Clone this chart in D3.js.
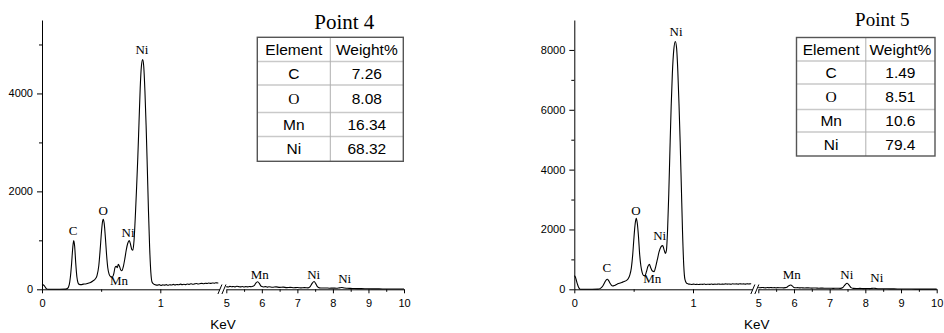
<!DOCTYPE html>
<html><head><meta charset="utf-8">
<script src="https://cdn.jsdelivr.net/npm/d3@7/dist/d3.min.js"></script>
<style>body{margin:0;background:#fff}svg{display:block}</style>
</head><body>
<svg id="chart" width="944" height="333"></svg>
<script>
// ---------------- DATA ----------------
// Point 4 spectrum [keV, counts]
const p4Spectrum = [
 [0.000,85],[0.010,90],[0.020,70],[0.030,35],[0.040,8],[0.050,0],[0.100,0],[0.150,0],[0.200,3],[0.215,15],
 [0.230,90],[0.240,250],[0.250,520],[0.260,850],[0.268,995],[0.276,880],[0.285,540],[0.295,250],[0.305,130],[0.315,100],
 [0.330,95],[0.350,105],[0.370,110],[0.390,125],[0.410,140],[0.430,170],[0.450,210],[0.465,280],[0.480,480],[0.492,820],
 [0.503,1180],[0.512,1390],[0.518,1430],[0.526,1340],[0.536,1050],[0.546,700],[0.556,440],[0.567,310],[0.580,260],[0.595,250],
 [0.607,320],[0.618,450],[0.628,470],[0.636,440],[0.645,510],[0.655,470],[0.665,400],[0.675,380],[0.688,470],[0.700,620],
 [0.712,800],[0.725,940],[0.738,995],[0.750,900],[0.760,810],[0.768,800],[0.778,1000],[0.790,1550],[0.800,2100],[0.810,2700],
 [0.820,3400],[0.830,4100],[0.840,4550],[0.851,4690],[0.860,4550],[0.870,4050],[0.880,3350],[0.890,2500],[0.900,1600],[0.910,850],
 [0.920,350],[0.930,150],[0.945,105],[0.960,90],[0.975,85],[0.990,95],[1.005,80],[1.020,90],[1.035,85],[1.050,95],
 [1.065,82],[1.080,92],[1.095,88],[1.110,100],[1.125,90],[1.140,98],[1.155,92],[1.170,105],[1.185,96],[1.200,102],
 [1.215,95],[1.230,108],[1.245,100],[1.260,112],[1.275,104],[1.290,110],[1.305,118],[1.320,108],[1.335,115],[1.350,122],
 [1.365,112],[1.380,125],[1.395,118],[1.410,128],[1.425,120],[1.440,130],[1.455,124],[1.470,135],[1.485,128],[1.490,132],
 [5.00,55],[5.05,48],[5.10,60],[5.15,52],[5.20,58],[5.25,50],[5.30,62],[5.35,55],[5.40,50],[5.45,58],
 [5.50,48],[5.55,55],[5.60,50],[5.65,56],[5.70,52],[5.75,60],[5.79,80],[5.83,125],[5.88,155],[5.93,120],
 [5.97,70],[6.00,55],[6.05,48],[6.10,55],[6.15,45],[6.20,52],[6.30,42],[6.40,50],[6.50,40],[6.60,45],
 [6.70,35],[6.80,40],[6.90,32],[7.00,36],[7.10,30],[7.20,34],[7.30,30],[7.36,55],[7.41,115],[7.47,160],
 [7.52,110],[7.57,50],[7.62,30],[7.70,26],[7.80,28],[7.90,22],[8.00,25],[8.10,22],[8.18,30],[8.25,38],
 [8.32,28],[8.40,20],[8.50,18],[8.60,15],[8.80,14],[9.00,10],[9.20,9],[9.40,7],[9.60,6],[9.80,5],[10.0,5]
];
// Point 5 spectrum [keV, counts]
const p5Spectrum = [
 [0.000,450],[0.008,420],[0.016,320],[0.025,190],[0.035,80],[0.045,15],[0.050,0],[0.100,0],[0.150,0],[0.200,5],
 [0.220,30],[0.240,110],[0.255,220],[0.268,310],[0.278,335],[0.288,300],[0.300,210],[0.312,140],[0.323,110],[0.340,130],
 [0.360,170],[0.380,200],[0.400,230],[0.420,260],[0.440,300],[0.455,360],[0.468,480],[0.480,700],[0.492,1150],[0.503,1750],
 [0.513,2200],[0.522,2370],[0.531,2200],[0.541,1750],[0.551,1150],[0.561,780],[0.572,560],[0.584,460],[0.595,450],[0.607,580],
 [0.620,760],[0.632,835],[0.644,720],[0.658,610],[0.672,590],[0.686,760],[0.700,1000],[0.714,1250],[0.730,1420],[0.745,1460],
 [0.758,1300],[0.768,1200],[0.776,1300],[0.786,2000],[0.796,3200],[0.806,4700],[0.816,6100],[0.826,7200],[0.838,8000],[0.851,8280],
 [0.862,8050],[0.872,7300],[0.882,6200],[0.892,4900],[0.902,3400],[0.912,1900],[0.922,800],[0.932,330],[0.945,210],[0.960,180],
 [0.975,170],[0.990,160],[1.005,172],[1.020,162],[1.035,168],[1.050,158],[1.065,170],[1.080,165],[1.095,175],[1.110,162],
 [1.125,170],[1.140,166],[1.155,176],[1.170,165],[1.185,172],[1.200,168],[1.215,178],[1.230,168],[1.245,174],[1.260,170],
 [1.275,182],[1.290,172],[1.305,178],[1.320,170],[1.335,184],[1.350,175],[1.365,180],[1.380,172],[1.395,186],[1.410,176],
 [1.425,182],[1.440,174],[1.455,185],[1.470,178],[1.485,184],[1.490,180],
 [5.00,60],[5.05,50],[5.10,62],[5.15,55],[5.20,48],[5.25,58],[5.30,52],[5.35,60],[5.40,50],[5.45,55],
 [5.50,47],[5.55,56],[5.60,50],[5.65,54],[5.70,48],[5.75,55],[5.80,70],[5.85,115],[5.91,145],[5.96,105],
 [6.00,60],[6.05,50],[6.10,55],[6.15,46],[6.20,52],[6.30,44],[6.40,48],[6.50,40],[6.60,44],[6.70,36],
 [6.80,40],[6.90,34],[7.00,36],[7.10,32],[7.20,35],[7.30,32],[7.37,60],[7.43,150],[7.49,200],[7.55,130],
 [7.60,55],[7.66,32],[7.75,28],[7.85,30],[7.95,24],[8.05,26],[8.12,24],[8.18,32],[8.24,36],[8.30,28],
 [8.40,20],[8.50,18],[8.70,15],[8.90,12],[9.10,10],[9.30,8],[9.50,7],[9.70,5],[9.90,5],[10.0,5]
];
// Peak annotations [text, keV, counts]
const p4Labels = [["Ni",0.845,4796],["C",0.262,1108],["O",0.518,1516],["Ni",0.727,1061],["Mn",0.651,88],
                  ["Mn",5.94,204],["Ni",7.46,204],["Ni",8.33,135]];
const p5Labels = [["Ni",0.857,8467],["C",0.275,588],["O",0.520,2481],["Ni",0.719,1646],["Mn",0.656,200],
                  ["Mn",5.94,334],["Ni",7.48,334],["Ni",8.32,234]];
// Tables
const tableHeader = ["Element","Weight%"];
const p4Elements = ["C","O","Mn","Ni"];
const p4Weights  = ["7.26","8.08","16.34","68.32"];
const p5Elements = ["C","O","Mn","Ni"];
const p5Weights  = ["1.49","8.51","10.6","79.4"];
const p4Title = "Point 4", p5Title = "Point 5";
// Axes
const p4YMax = 5500, p5YMax = 9000;
const p4YTicks = [0,2000,4000], p4YMinor = [1000,3000,5000];
const p5YTicks = [0,2000,4000,6000,8000], p5YMinor = [1000,3000,5000,7000];
const xLowDomain = [0,1.5], xHighDomain = [5,10];
const xLowTicks = [0,1], xLowMinor = [0.5];
const xHighTicks = [5,6,7,8,9,10], xHighMinor = [5.5,6.5,7.5,8.5,9.5];
const xTitle = "KeV";

// ---------------- DRAW ----------------
const svg = d3.select("#chart");
const SANS = "'Liberation Sans', Arial, sans-serif";
const SERIF = "'Liberation Serif', 'Times New Roman', serif";

function panel(o){
  const g = svg.append("g");
  const y = d3.scaleLinear().domain([0,o.yMax]).range([289.3,20]);
  const xLo = d3.scaleLinear().domain(xLowDomain).range([o.x0, o.x0 + 1.5*o.kpx]);
  const xHi = d3.scaleLinear().domain(xHighDomain).range([o.h0, o.h1]);
  const xOf = k => k <= 2 ? xLo(k) : xHi(k);

  // y axis
  const ya = g.append("g").attr("transform",`translate(${o.x0},0)`)
    .call(d3.axisLeft(y).tickValues(o.yTicks).tickSize(5).tickSizeOuter(0).tickPadding(4).tickFormat(d3.format("d")));
  g.append("g").attr("transform",`translate(${o.x0},0)`)
    .call(d3.axisLeft(y).tickValues(o.yMinor).tickSize(3).tickFormat(""))
    .select(".domain").remove();
  // x axes
  const xa1 = g.append("g").attr("transform","translate(0,289.3)")
    .call(d3.axisBottom(xLo).tickValues(xLowTicks).tickSize(4).tickSizeOuter(0).tickPadding(5.5).tickFormat(d3.format("d")));
  g.append("g").attr("transform","translate(0,289.3)")
    .call(d3.axisBottom(xLo).tickValues(xLowMinor).tickSize(2.5).tickFormat("")).select(".domain").remove();
  const xa2 = g.append("g").attr("transform","translate(0,289.3)")
    .call(d3.axisBottom(xHi).tickValues(xHighTicks).tickSize(4).tickSizeOuter(0).tickPadding(5.5).tickFormat(d3.format("d")));
  g.append("g").attr("transform","translate(0,289.3)")
    .call(d3.axisBottom(xHi).tickValues(xHighMinor).tickSize(2.5).tickFormat("")).select(".domain").remove();
  g.selectAll(".tick text").attr("font-family",SANS).attr("font-size",11).attr("fill","#000");
  g.selectAll(".domain,.tick line").attr("stroke","#000").attr("stroke-width",1);

  // break marks
  const bx = xLo(1.5);
  [[-1.5,2.5],[2.5,6.5]].forEach(([a,b])=>{
    g.append("line").attr("x1",bx+a).attr("y1",294).attr("x2",bx+b).attr("y2",284.5)
      .attr("stroke","#000").attr("stroke-width",1);
  });

  // spectrum
  const line = d3.line().x(d=>xOf(d[0])).y(d=>y(d[1])).curve(d3.curveMonotoneX);
  const lo = o.spectrum.filter(d=>d[0]<=1.5), hi = o.spectrum.filter(d=>d[0]>=5);
  [lo,hi].forEach(seg=>g.append("path").datum(seg).attr("d",line)
    .attr("fill","none").attr("stroke","#000").attr("stroke-width",1.1).attr("stroke-linejoin","round"));

  // peak labels
  g.selectAll("text.pk").data(o.labels).join("text").attr("class","pk")
    .attr("x",d=>xOf(d[1])).attr("y",d=>y(d[2])).attr("text-anchor","middle")
    .attr("font-family",SERIF).attr("font-size",13).attr("fill","#000").text(d=>d[0]);

  // x title
  g.append("text").attr("x",o.kevX).attr("y",329).attr("text-anchor","middle")
    .attr("font-family",SANS).attr("font-size",13.5).text(xTitle);

  // title
  g.append("text").attr("x",o.titleX).attr("y",o.titleY).attr("text-anchor","middle")
    .attr("font-family",SERIF).attr("font-size",o.titleSize).text(o.title);

  // table
  const t = o.table;
  const rows = [tableHeader].concat(o.elements.map((e,i)=>[e,o.weights[i]]));
  const tg = g.append("g");
  for(let i=1;i<t.rows.length-1;i++){
    tg.append("line").attr("x1",t.x0).attr("x2",t.x2).attr("y1",t.rows[i]).attr("y2",t.rows[i])
      .attr("stroke","#c9c9c9").attr("stroke-width",1.6);
  }
  tg.append("line").attr("x1",t.x1).attr("x2",t.x1).attr("y1",t.rows[0]).attr("y2",t.rows[t.rows.length-1])
    .attr("stroke","#b0b0b0").attr("stroke-width",1);
  tg.append("rect").attr("x",t.x0).attr("y",t.rows[0]).attr("width",t.x2-t.x0)
    .attr("height",t.rows[t.rows.length-1]-t.rows[0]).attr("fill","none").attr("stroke","#555").attr("stroke-width",1.4);
  rows.forEach((r,i)=>{
    const cy = (t.rows[i]+t.rows[i+1])/2 + 5.5;
    r.forEach((txt,j)=>{
      const cx = j===0 ? (t.x0+t.x1)/2 : (t.x1+t.x2)/2;
      tg.append("text").attr("x",cx).attr("y",cy).attr("text-anchor","middle")
        .attr("font-family", txt==="O" ? SERIF : SANS).attr("font-size",15.5).attr("fill","#000").text(txt);
    });
  });
}

panel({spectrum:p4Spectrum, labels:p4Labels, elements:p4Elements, weights:p4Weights, title:p4Title,
  yMax:p4YMax, yTicks:p4YTicks, yMinor:p4YMinor,
  x0:42, kpx:118.3, h0:226.3, h1:404, kevX:223,
  titleX:344.3, titleY:29.3, titleSize:21,
  table:{x0:257.3, x1:330.3, x2:403.3, rows:[37.3,61.5,85,112.5,136.5,161.3]}});

panel({spectrum:p5Spectrum, labels:p5Labels, elements:p5Elements, weights:p5Weights, title:p5Title,
  yMax:p5YMax, yTicks:p5YTicks, yMinor:p5YMinor,
  x0:574.3, kpx:118.7, h0:758.3, h1:936.7, kevX:756.7,
  titleX:882.3, titleY:26, titleSize:19,
  table:{x0:796.5, x1:865.8, x2:935, rows:[37.5,61,84,109.5,132,156]}});
</script>
</body></html>
